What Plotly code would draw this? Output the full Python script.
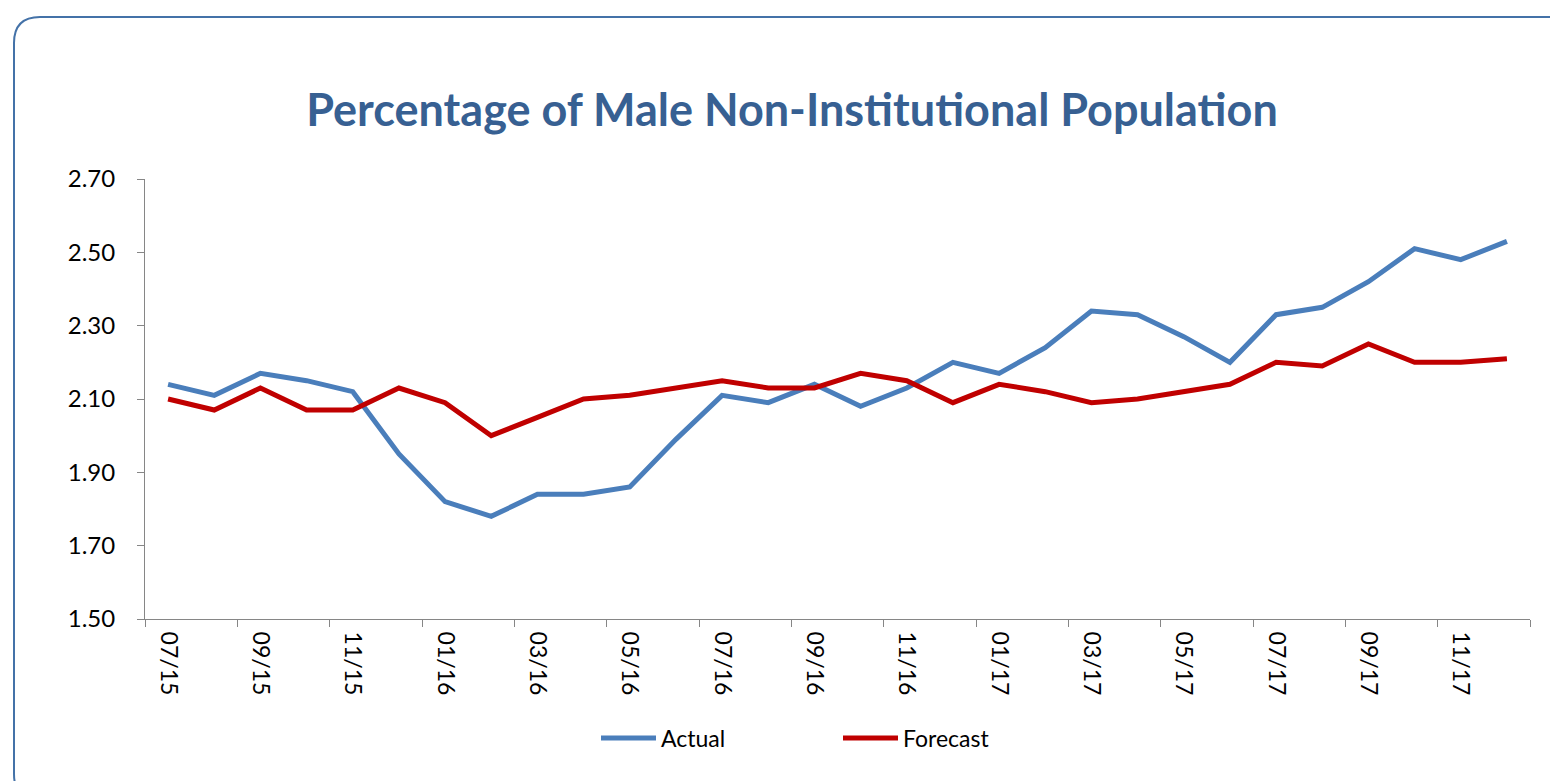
import plotly.graph_objects as go

months = ["07/15","08/15","09/15","10/15","11/15","12/15",
          "01/16","02/16","03/16","04/16","05/16","06/16",
          "07/16","08/16","09/16","10/16","11/16","12/16",
          "01/17","02/17","03/17","04/17","05/17","06/17",
          "07/17","08/17","09/17","10/17","11/17","12/17"]
actual = [2.14,2.11,2.17,2.15,2.12,1.95,
          1.82,1.78,1.84,1.84,1.86,1.99,
          2.11,2.09,2.14,2.08,2.13,2.20,
          2.17,2.24,2.34,2.33,2.27,2.20,
          2.33,2.35,2.42,2.51,2.48,2.53]
forecast = [2.10,2.07,2.13,2.07,2.07,2.13,
            2.09,2.00,2.05,2.10,2.11,2.13,
            2.15,2.13,2.13,2.17,2.15,2.09,
            2.14,2.12,2.09,2.10,2.12,2.14,
            2.20,2.19,2.25,2.20,2.20,2.21]
y_ticks = [1.50,1.70,1.90,2.10,2.30,2.50,2.70]

OFF = 8  # page body margin
W, H = 1558 - OFF, 781 - OFF
L, R, T, B = 145 - OFF, 1530 - OFF, 179 - OFF, 619 - OFF
FONT = "Lato"

idx = list(range(len(months)))
fig = go.Figure()
fig.add_trace(go.Scatter(x=idx, y=actual, name="Actual", mode="lines",
                         line=dict(color="#4A7EBB", width=5)))
fig.add_trace(go.Scatter(x=idx, y=forecast, name="Forecast", mode="lines",
                         line=dict(color="#C00000", width=5)))

# rounded border (page px -> paper)
def px(xp): return (xp - OFF - L) / (R - L)
def py(yp): return (B - (yp - OFF)) / (B - T)
x0, x1, y0, y1, r = 14, 1600, 17, 800, 26
path = (f"M {px(x0)},{py(y0+r)} Q {px(x0)},{py(y0)} {px(x0+r)},{py(y0)} "
        f"L {px(x1-r)},{py(y0)} Q {px(x1)},{py(y0)} {px(x1)},{py(y0+r)} "
        f"L {px(x1)},{py(y1-r)} Q {px(x1)},{py(y1)} {px(x1-r)},{py(y1)} "
        f"L {px(x0+r)},{py(y1)} Q {px(x0)},{py(y1)} {px(x0)},{py(y1-r)} Z")

fig.update_layout(
    width=W, height=H,
    margin=dict(l=L, r=W-R, t=T, b=H-B, pad=0),
    paper_bgcolor="white", plot_bgcolor="white",
    font=dict(family=FONT, size=23, color="black"),
    title=dict(text="<b>Percentage of Male Non-Institutional Population</b>",
               font=dict(family=FONT, size=45, color="#376092"),
               xref="container", x=(792-OFF)/W, xanchor="center",
               yref="container", y=1-(110-OFF)/H, yanchor="middle"),
    showlegend=True,
    legend=dict(orientation="h", xref="paper", x=px(596), xanchor="left",
                yref="paper", y=py(738), yanchor="middle",
                font=dict(family=FONT, size=23), itemwidth=55,
                entrywidth=172, entrywidthmode="pixels",
                bgcolor="rgba(0,0,0,0)"),
    shapes=[dict(type="path", path=path, xref="paper", yref="paper",
                 line=dict(color="#4472A8", width=2), layer="below")],
    xaxis=dict(range=[-0.5, len(months)-0.5], showgrid=False, zeroline=False,
               showline=True, linecolor="#868686", linewidth=1,
               tickmode="array", tickvals=idx[::2], ticktext=months[::2],
               tickangle=90, ticks="", ticklen=0, ticklabelstandoff=7,
               tickfont=dict(family=FONT, size=23),
               minor=dict(ticks="outside", tick0=-0.5, dtick=2, ticklen=7,
                          tickcolor="#868686", showgrid=False)),
    yaxis=dict(range=[1.5, 2.7], showgrid=False, zeroline=False,
               showline=True, linecolor="#868686", linewidth=1,
               tickmode="array", tickvals=y_ticks, tickformat=".2f",
               ticks="outside", ticklen=7, tickcolor="#868686",
               ticklabelstandoff=17,
               tickfont=dict(family=FONT, size=24)),
)
fig.write_html("out.html")
